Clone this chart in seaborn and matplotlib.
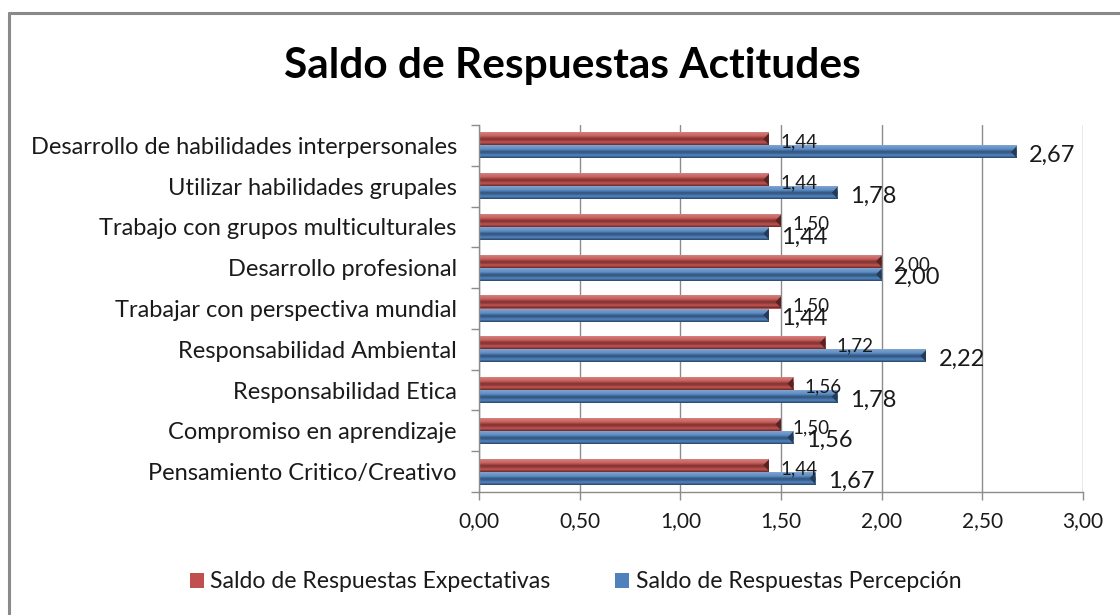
import numpy as np
import pandas as pd
import matplotlib
matplotlib.use("Agg")
import matplotlib.pyplot as plt
from matplotlib.patches import Polygon
import seaborn as sns

categories = [
    "Desarrollo de habilidades interpersonales",
    "Utilizar habilidades grupales",
    "Trabajo con grupos multiculturales",
    "Desarrollo profesional",
    "Trabajar con perspectiva mundial",
    "Responsabilidad Ambiental",
    "Responsabilidad Etica",
    "Compromiso en aprendizaje",
    "Pensamiento Critico/Creativo",
]
expectativas = [1.44, 1.44, 1.50, 2.00, 1.50, 1.72, 1.56, 1.50, 1.44]
percepcion = [2.67, 1.78, 1.44, 2.00, 1.44, 2.22, 1.78, 1.56, 1.67]
series_names = ["Saldo de Respuestas Expectativas", "Saldo de Respuestas Percepción"]
x_ticks = [0.0, 0.5, 1.0, 1.5, 2.0, 2.5, 3.0]
title = "Saldo de Respuestas Actitudes"

RED = "#C0504D"
BLUE = "#4F81BD"

sns.set_theme(style="white")
plt.rcParams["font.family"] = ["Lato", "DejaVu Sans"]

df = pd.DataFrame({
    "categoria": categories * 2,
    "valor": expectativas + percepcion,
    "serie": [series_names[0]] * len(categories) + [series_names[1]] * len(categories),
})

fig = plt.figure(figsize=(11.2, 6.15), dpi=100)
ax = fig.add_axes([479 / 1120, 1 - 492 / 615, (1083 - 479) / 1120, (492 - 125) / 615])

sns.barplot(data=df, y="categoria", x="valor", hue="serie", hue_order=series_names,
            palette=[RED, BLUE], orient="h", width=0.64, ax=ax, saturation=1,
            edgecolor="none", linewidth=0, errorbar=None)

handles, labels = ax.get_legend_handles_labels()
ax.get_legend().remove()

xlim = (0, 3.0)
ylim = ax.get_ylim()


def shade(rgb, f):
    rgb = np.array(rgb[:3])
    if f >= 0:
        return rgb + (1 - rgb) * f
    return rgb * (1 + f)


# bevelled look for each bar: vertical shading plus a darker end cap
profile = [(0.00, 0.45), (0.10, 0.25), (0.35, 0.10), (0.55, -0.35), (0.70, -0.20),
           (0.80, 0.05), (0.92, -0.25), (1.00, -0.45)]
pos = np.linspace(0, 1, 40)
fs = np.interp(pos, [p[0] for p in profile], [p[1] for p in profile])
bars = [p for p in ax.patches if p.get_width() > 0]
for p in bars:
    x0, y0, w, h = p.get_x(), p.get_y(), p.get_width(), p.get_height()
    base = p.get_facecolor()
    img = np.array([[list(shade(base, f)) + [1.0]] for f in fs])
    im = ax.imshow(img, extent=(x0, x0 + w, y0 + h, y0), origin="upper",
                   aspect="auto", interpolation="bilinear", zorder=2.1)
    im.set_clip_path(p)
    cap = 0.028
    dark = shade(base, -0.55)
    ax.add_patch(Polygon([(x0 + w - cap, y0 + h * 0.5), (x0 + w, y0 + h * 0.05),
                          (x0 + w, y0 + h * 0.95)], closed=True,
                         facecolor=dark, edgecolor="none", zorder=2.2))
    ax.add_patch(Polygon([(x0 + w - cap, y0 + h * 0.5), (x0 + w, y0),
                          (x0 + w, y0 + h * 0.05)], closed=True,
                         facecolor=shade(base, 0.3), edgecolor="none", zorder=2.2))

ax.set_xlim(*xlim)
ax.set_ylim(*ylim)

# value labels
n = len(categories)
for i in range(n):
    ax.annotate(f"{expectativas[i]:.2f}".replace(".", ","), xy=(expectativas[i], i - 0.16),
                xytext=(8, -2.5), textcoords="offset points", va="center", ha="left",
                fontsize=13.5, color="#1a1a1a", zorder=5)
    ax.annotate(f"{percepcion[i]:.2f}".replace(".", ","), xy=(percepcion[i], i + 0.16),
                xytext=(9, -2.5), textcoords="offset points", va="center", ha="left",
                fontsize=17, color="#1a1a1a", zorder=5)

# axes styling
grid_c = "#8c8c8c"
ax.set_xticks(x_ticks)
ax.set_xticklabels([f"{t:.2f}".replace(".", ",") for t in x_ticks], fontsize=15, color="#1a1a1a")
ax.xaxis.grid(True, color=grid_c, linewidth=1)
ax.set_axisbelow(True)
ax.tick_params(axis="x", length=6, width=1, color=grid_c, pad=8, bottom=True)
ax.set_yticks(range(n))
ax.set_yticklabels(categories, fontsize=17, color="#1a1a1a")
ax.tick_params(axis="y", length=0, pad=16)
ax.set_yticks(np.arange(-0.5, n, 1.0), minor=True)
ax.tick_params(axis="y", which="minor", length=6, width=1, color=grid_c, left=True)
ax.set_xlabel("")
ax.set_ylabel("")
for side in ["top", "right"]:
    ax.spines[side].set_visible(False)
for side in ["left", "bottom"]:
    ax.spines[side].set_color(grid_c)
    ax.spines[side].set_linewidth(1)

fig.text(0.511, 1 - 66 / 615, title, ha="center", va="center", fontsize=30.5,
         fontweight="bold", color="black")

fig.legend(handles, labels, loc="center", bbox_to_anchor=(0.514, 1 - 582 / 615), ncol=2,
           frameon=False, fontsize=16.6, handlelength=0.6, handleheight=0.6,
           handletextpad=0.3, columnspacing=2.8, labelcolor="#1a1a1a")

# outer chart frame (top and left edges)
frame_c = "#8a8a8a"
fig.add_artist(plt.Line2D([9 / 1120, 1.0], [1 - 13 / 615, 1 - 13 / 615], color=frame_c,
                          linewidth=2.2, transform=fig.transFigure))
fig.add_artist(plt.Line2D([9 / 1120, 9 / 1120], [0.0, 1 - 13 / 615], color=frame_c,
                          linewidth=2.2, transform=fig.transFigure))

fig.savefig("out.png", dpi=100)
